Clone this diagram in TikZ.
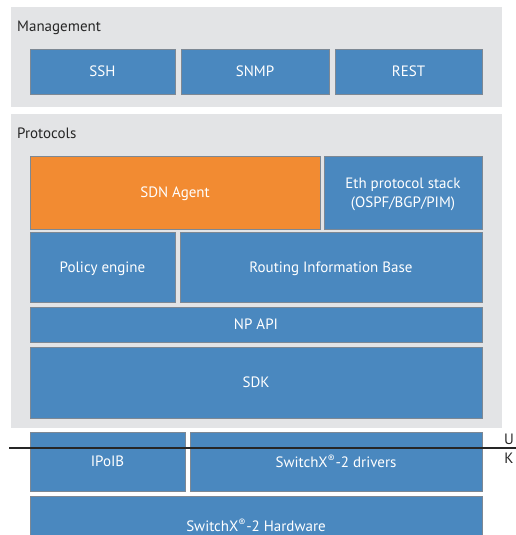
\documentclass[tikz,border=0pt]{standalone}
\usepackage{fontspec}
\setmainfont{PT Sans}
\definecolor{panelgray}{HTML}{E3E4E6}
\definecolor{blkblue}{HTML}{4A88BF}
\definecolor{blkorange}{HTML}{F28B32}
\definecolor{blkedge}{HTML}{7D8894}
\begin{document}
\begin{tikzpicture}[x=1pt, y=-1pt,
    font=\fontsize{15}{19}\selectfont,
    panel/.style={fill=panelgray, draw=none, inner sep=0pt},
    blk/.style={draw=blkedge, line width=0.8pt, fill=blkblue, text=white, inner sep=0pt, text depth=0pt, align=center},
    sdn/.style={blk, fill=blkorange}]
    \useasboundingbox (0,0) rectangle (516,535);
    \node[panel, minimum width=491pt, minimum height=100pt] (mgmt) at (256.5,57) {};
    \node[panel, minimum width=491pt, minimum height=314pt] (proto) at (256.5,271) {};
    \node[anchor=base west, inner sep=0pt, text=black!85] (mgmtlbl) at (17,32) {Management};
    \node[anchor=base west, inner sep=0pt, text=black!85] (protolbl) at (17,138) {Protocols};
    \node[blk, minimum width=145pt, minimum height=45pt] (ssh) at (102.5,71.5) {SSH};
    \node[blk, minimum width=148pt, minimum height=45pt] (snmp) at (255,71.5) {SNMP};
    \node[blk, minimum width=147pt, minimum height=45pt] (rest) at (408.5,71.5) {REST};
    \node[sdn, minimum width=290pt, minimum height=73pt] (agent) at (175,192.5) {SDN Agent};
    \node[blk, minimum width=158pt, minimum height=73pt] (eth) at (403,192.5) {Eth protocol stack\\(OSPF/BGP/PIM)};
    \node[blk, minimum width=145pt, minimum height=70pt] (policy) at (102.5,267) {Policy engine};
    \node[blk, minimum width=302pt, minimum height=70pt] (rib) at (331,267) {Routing Information Base};
    \node[blk, minimum width=452pt, minimum height=35pt] (npapi) at (256,324.5) {NP API};
    \node[blk, minimum width=452pt, minimum height=71pt] (sdk) at (256,382.5) {SDK};
    \node[blk, minimum width=155pt, minimum height=59pt] (ipoib) at (107.5,461.5) {IPoIB};
    \node[blk, minimum width=292pt, minimum height=59pt] (drivers) at (336,461.5) {SwitchX\textsuperscript{®}-2 drivers};
    \node[blk, minimum width=452pt, minimum height=59pt] (hw) at (256,525.5) {SwitchX\textsuperscript{®}-2 Hardware};
    % user / kernel boundary
    \coordinate (ukleft) at (9,448);
    \coordinate (ukright) at (516,448);
    \draw[line width=1.3pt, black!85] (ukleft) -- (ukright);
    \node[inner sep=0pt, text=black!85] (user) at (509,439.5) {U};
    \node[inner sep=0pt, text=black!85] (kernel) at (509,458.5) {K};
\end{tikzpicture}
\end{document}
